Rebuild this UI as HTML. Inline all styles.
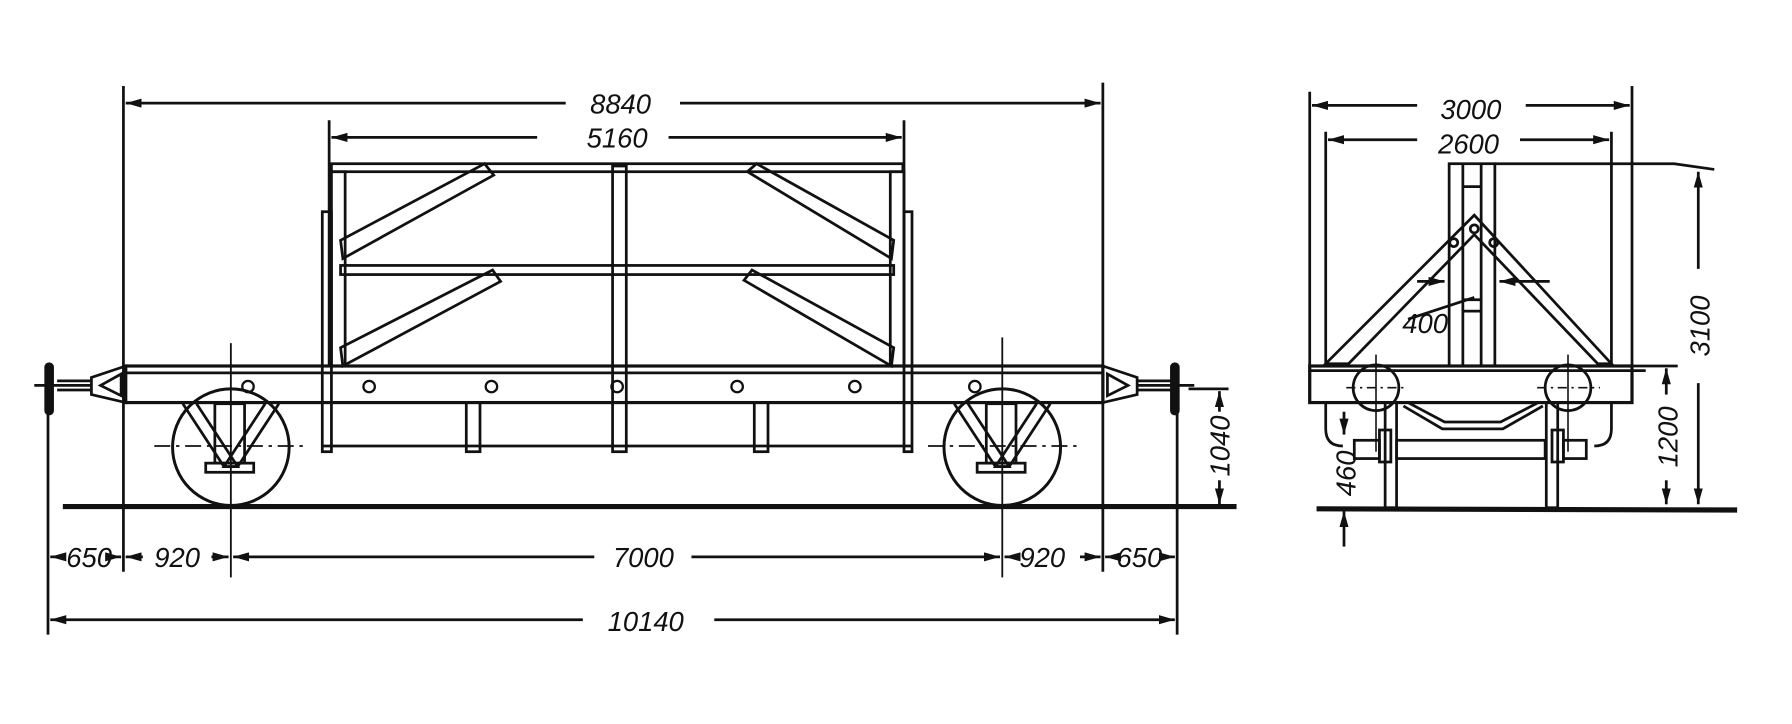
<!DOCTYPE html>
<html><head><meta charset="utf-8"><style>
html,body{margin:0;padding:0;background:#fff;}
svg{display:block;}
text{font-family:"Liberation Sans",sans-serif;font-style:italic;font-size:24px;fill:#111;}
</style></head><body>
<svg width="1792" height="724" viewBox="0 0 1568 633" xmlns="http://www.w3.org/2000/svg">
<defs>
<marker id="a" viewBox="0 0 14 8" refX="14" refY="4" markerWidth="14" markerHeight="8" orient="auto-start-reverse" markerUnits="userSpaceOnUse"><path d="M0,0 L14,4 L0,8 Z" fill="#111"/></marker>
</defs>
<rect width="1568" height="633" fill="#fff"/>
<g stroke="#111" stroke-width="2.4" fill="none">
<line x1="55" y1="443" x2="1082" y2="443" stroke-width="4.5"/>
<line x1="1152" y1="445" x2="1520" y2="446" stroke-width="4.5"/>

<line x1="108" y1="75" x2="108" y2="500"/>
<line x1="965" y1="72" x2="965" y2="500"/>
<line x1="288" y1="105" x2="288" y2="320"/>
<line x1="791" y1="105" x2="791" y2="320"/>
<line x1="42" y1="320" x2="42" y2="555"/>
<line x1="1030" y1="340" x2="1030" y2="555"/>
<line x1="202" y1="300" x2="202" y2="505" stroke-width="1.6"/>
<line x1="877" y1="295" x2="877" y2="505" stroke-width="1.6"/>

<line x1="110" y1="90" x2="495" y2="90" marker-start="url(#a)"/>
<line x1="595" y1="90" x2="963" y2="90" marker-end="url(#a)"/>
<line x1="290" y1="120" x2="470" y2="120" marker-start="url(#a)"/>
<line x1="585" y1="120" x2="789" y2="120" marker-end="url(#a)"/>
<line x1="44" y1="487" x2="56" y2="487" marker-start="url(#a)"/>
<line x1="106" y1="487" x2="96" y2="487" marker-start="url(#a)"/>
<line x1="110" y1="487" x2="125" y2="487" marker-start="url(#a)"/>
<line x1="200" y1="487" x2="185" y2="487" marker-start="url(#a)"/>
<line x1="204" y1="487" x2="520" y2="487" marker-start="url(#a)"/>
<line x1="605" y1="487" x2="875" y2="487" marker-end="url(#a)"/>
<line x1="879" y1="487" x2="890" y2="487" marker-start="url(#a)"/>
<line x1="963" y1="487" x2="945" y2="487" marker-start="url(#a)"/>
<line x1="967" y1="487" x2="978" y2="487" marker-start="url(#a)"/>
<line x1="1028" y1="487" x2="1015" y2="487" marker-start="url(#a)"/>
<line x1="44" y1="542" x2="510" y2="542" marker-start="url(#a)"/>
<line x1="625" y1="542" x2="1028" y2="542" marker-end="url(#a)"/>
<line x1="1040" y1="340" x2="1075" y2="340"/>
<line x1="1067" y1="342" x2="1067" y2="360" marker-start="url(#a)"/>
<line x1="1067" y1="441" x2="1067" y2="420" marker-start="url(#a)"/>

<rect x="290" y="143" width="500" height="7"/>
<rect x="298" y="232" width="484" height="8"/>
<rect x="290" y="150" width="12" height="170"/>
<rect x="779" y="150" width="12" height="170"/>
<rect x="536" y="145" width="12" height="250"/>
<rect x="282" y="185" width="8" height="210"/>
<rect x="791" y="185" width="7" height="210"/>
<polygon points="298,210 424,143 432,153 300,226"/>
<polygon points="654,150 662,143 782,210 780,226"/>
<polygon points="298,304 431,236 438,246 300,320"/>
<polygon points="651,245 658,236 782,304 780,320"/>
<rect x="408" y="352" width="12" height="43"/>
<rect x="660" y="352" width="12" height="43"/>
<line x1="282" y1="390" x2="798" y2="390"/>
<rect x="110" y="320" width="855" height="32" stroke-width="2.8"/>
<line x1="110" y1="326" x2="965" y2="326"/>
<g stroke-width="2">
<circle cx="217" cy="338" r="5"/><circle cx="323" cy="338" r="5"/><circle cx="430" cy="338" r="5"/>
<circle cx="540" cy="338" r="5"/><circle cx="645" cy="338" r="5"/><circle cx="748" cy="338" r="5"/><circle cx="853" cy="338" r="5"/>
</g>
<polygon points="110,320 80,330 80,345 110,352"/>
<polygon points="106,327 88,337 106,346"/>
<line x1="30" y1="337" x2="80" y2="337"/>
<line x1="50" y1="333" x2="80" y2="333"/><line x1="50" y1="341" x2="80" y2="341"/>
<rect x="40" y="318" width="6" height="44" rx="3" fill="#111"/>
<polygon points="965,320 995,330 995,345 965,352"/>
<polygon points="969,327 987,337 969,346"/>
<line x1="995" y1="337" x2="1045" y2="337"/>
<line x1="995" y1="333" x2="1025" y2="333"/><line x1="995" y1="341" x2="1025" y2="341"/>
<rect x="1025" y="318" width="6" height="44" rx="3" fill="#111"/>
<circle cx="202" cy="391" r="51" stroke-width="2.6"/>
<circle cx="877" cy="391" r="51" stroke-width="2.6"/>
<line x1="135" y1="390" x2="270" y2="390" stroke-dasharray="14,5,3,5" stroke-width="1.6"/>
<line x1="812" y1="390" x2="942" y2="390" stroke-dasharray="14,5,3,5" stroke-width="1.6"/>
<polyline points="172,353 208,408 196,408 160,353"/>
<polyline points="232,353 196,408 208,408 244,353"/>
<rect x="188" y="353" width="26" height="52"/>
<rect x="180" y="405" width="42" height="8"/>
<polyline points="847,353 883,408 871,408 835,353"/>
<polyline points="907,353 871,408 883,408 919,353"/>
<rect x="863" y="353" width="26" height="52"/>
<rect x="855" y="405" width="42" height="8"/>

<line x1="1146" y1="80" x2="1146" y2="352"/>
<line x1="1428" y1="75" x2="1428" y2="352"/>
<line x1="1148" y1="92" x2="1240" y2="92" marker-start="url(#a)"/>
<line x1="1335" y1="92" x2="1426" y2="92" marker-end="url(#a)"/>
<line x1="1160" y1="115" x2="1160" y2="320"/>
<line x1="1410" y1="115" x2="1410" y2="320"/>
<line x1="1162" y1="122" x2="1240" y2="122" marker-start="url(#a)"/>
<line x1="1330" y1="122" x2="1408" y2="122" marker-end="url(#a)"/>
<rect x="1268" y="143" width="40" height="177"/>
<line x1="1280" y1="143" x2="1280" y2="320"/>
<line x1="1296" y1="143" x2="1296" y2="320"/>
<line x1="1280" y1="163" x2="1296" y2="163"/>
<line x1="1280" y1="262" x2="1296" y2="262"/><line x1="1280" y1="272" x2="1296" y2="272"/>
<polyline points="1308,143 1465,143 1500,148"/>
<polygon points="1160,318 1290,188 1410,318 1398,318 1290,205 1180,318"/>
<circle cx="1290" cy="200" r="3.5"/><circle cx="1272" cy="212" r="3.5"/><circle cx="1307" cy="212" r="3.5"/>
<line x1="1240" y1="246" x2="1264" y2="246" marker-end="url(#a)"/>
<line x1="1356" y1="246" x2="1312" y2="246" marker-end="url(#a)"/>
<line x1="1232" y1="279" x2="1290" y2="260"/>
<rect x="1146" y="320" width="282" height="32" stroke-width="2.8"/>
<line x1="1146" y1="324" x2="1440" y2="324"/>
<line x1="1420" y1="320" x2="1468" y2="320"/>
<circle cx="1204" cy="339" r="20"/><circle cx="1372" cy="339" r="20"/>
<line x1="1178" y1="339" x2="1230" y2="339" stroke-dasharray="8,4,2,4" stroke-width="1.4"/>
<line x1="1345" y1="339" x2="1400" y2="339" stroke-dasharray="8,4,2,4" stroke-width="1.4"/>
<line x1="1204" y1="310" x2="1204" y2="395" stroke-width="1.4"/>
<line x1="1372" y1="310" x2="1372" y2="395" stroke-width="1.4"/>
<path d="M1160,352 L1160,375 Q1160,390 1175,390"/>
<path d="M1410,352 L1410,375 Q1410,390 1395,390"/>
<polyline points="1228,355 1262,375 1315,375 1350,355"/>
<polyline points="1232,352 1264,369 1313,369 1346,352"/>
<rect x="1212" y="352" width="10" height="92"/>
<rect x="1353" y="352" width="10" height="92"/>
<rect x="1222" y="385" width="130" height="16"/>
<rect x="1207" y="376" width="10" height="28"/><rect x="1358" y="376" width="10" height="28"/>
<rect x="1185" y="385" width="22" height="16"/><rect x="1368" y="385" width="20" height="16"/>
<line x1="1176" y1="360" x2="1176" y2="380" marker-end="url(#a)"/>
<line x1="1176" y1="478" x2="1176" y2="447" marker-end="url(#a)"/>
<line x1="1458" y1="322" x2="1458" y2="345" marker-start="url(#a)"/>
<line x1="1458" y1="441" x2="1458" y2="420" marker-start="url(#a)"/>
<line x1="1486" y1="150" x2="1486" y2="235" marker-start="url(#a)"/>
<line x1="1486" y1="441" x2="1486" y2="335" marker-start="url(#a)"/>
</g>
<g>
<text x="543" y="99" text-anchor="middle">8840</text>
<text x="540" y="129" text-anchor="middle">5160</text>
<text x="78" y="496" text-anchor="middle" font-size="21">650</text>
<text x="155" y="496" text-anchor="middle">920</text>
<text x="563" y="496" text-anchor="middle">7000</text>
<text x="912" y="496" text-anchor="middle">920</text>
<text x="997" y="496" text-anchor="middle" font-size="21">650</text>
<text x="565" y="552" text-anchor="middle">10140</text>
<text transform="translate(1076,390) rotate(-90)" text-anchor="middle">1040</text>
<text x="1287" y="104" text-anchor="middle">3000</text>
<text x="1285" y="134" text-anchor="middle">2600</text>
<text x="1247" y="291" text-anchor="middle" font-size="21">400</text>
<text transform="translate(1496,285) rotate(-90)" text-anchor="middle">3100</text>
<text transform="translate(1468,382) rotate(-90)" text-anchor="middle">1200</text>
<text transform="translate(1186,414) rotate(-90)" text-anchor="middle" font-size="20">460</text>
</g>
</svg>
</body></html>
